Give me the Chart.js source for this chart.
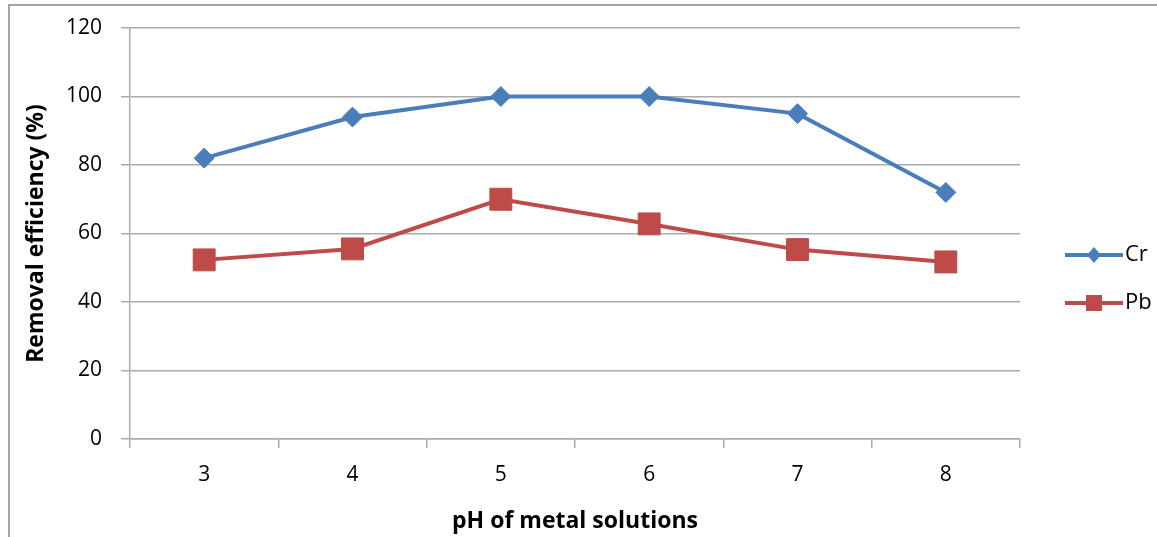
<!DOCTYPE html>
<html>
<head>
<meta charset="utf-8">
<script src="https://cdn.jsdelivr.net/npm/chart.js@4/dist/chart.umd.min.js"></script>
<style>
  html, body { margin: 0; padding: 0; background: #fff; }
  #wrap { width: 1157px; height: 537px; position: relative; }
</style>
</head>
<body>
<div id="wrap"><canvas id="c" width="1157" height="537"></canvas></div>
<script>
const categories = ['3', '4', '5', '6', '7', '8'];
const crValues = [82, 94, 100, 100, 95, 72];
const pbValues = [52.3, 55.5, 70, 62.8, 55.3, 51.7];
const yTicks = [0, 20, 40, 60, 80, 100, 120];
const seriesNames = ['Cr', 'Pb'];

const FONT = '"Open Sans", "Liberation Sans", sans-serif';
const CR = '#4a7ebb';
const PB = '#be4b48';
const GRID = '#ababab';

const framePlugin = {
  id: 'frame',
  beforeDraw(chart) {
    const ctx = chart.ctx;
    ctx.save();
    ctx.fillStyle = '#fff';
    ctx.fillRect(0, 0, chart.width, chart.height);
    ctx.strokeStyle = '#a6a6a6';
    ctx.lineWidth = 2;
    ctx.strokeRect(9, 5, chart.width + 20, chart.height + 20);
    ctx.restore();
  },
  afterDraw(chart) {
    const ctx = chart.ctx;
    ctx.save();
    const rows = [255, 303];
    chart.data.datasets.forEach((ds, i) => {
      const y = rows[i];
      ctx.strokeStyle = ds.borderColor;
      ctx.lineWidth = 4;
      ctx.beginPath();
      ctx.moveTo(1065, y);
      ctx.lineTo(1123, y);
      ctx.stroke();
      ctx.fillStyle = ds.backgroundColor;
      ctx.beginPath();
      if (ds.pointStyle === 'rectRot') {
        ctx.moveTo(1094 - 7, y); ctx.lineTo(1094, y - 8);
        ctx.lineTo(1094 + 7, y); ctx.lineTo(1094, y + 8);
        ctx.closePath();
      } else {
        ctx.rect(1094 - 8, y - 8, 16, 16);
      }
      ctx.fill();
      ctx.fillStyle = '#000';
      ctx.font = '22px ' + FONT;
      ctx.textBaseline = 'middle';
      ctx.textAlign = 'left';
      ctx.fillText(ds.label, 1125, y);
    });
    ctx.restore();
  }
};

new Chart(document.getElementById('c'), {
  type: 'line',
  data: {
    labels: categories,
    datasets: [
      {
        label: seriesNames[0],
        data: crValues,
        borderColor: CR,
        backgroundColor: CR,
        borderWidth: 4,
        pointStyle: 'rectRot',
        pointRadius: 10,
        pointBorderWidth: 1,
        pointBorderColor: CR,
        tension: 0
      },
      {
        label: seriesNames[1],
        data: pbValues,
        borderColor: PB,
        backgroundColor: PB,
        borderWidth: 4,
        pointStyle: 'rect',
        pointRadius: 15.5,
        pointBorderWidth: 1,
        pointBorderColor: PB,
        tension: 0
      }
    ]
  },
  options: {
    responsive: false,
    animation: false,
    devicePixelRatio: 1,
    layout: { padding: { left: 0, top: 28, right: 137, bottom: 0 } },
    plugins: { legend: { display: false }, tooltip: { enabled: false } },
    scales: {
      x: {
        type: 'category',
        offset: true,
        grid: { offset: true, drawOnChartArea: false, drawTicks: true, tickLength: 9, color: GRID, lineWidth: 1.5 },
        border: { color: GRID, width: 1.5 },
        ticks: { color: '#000', font: { family: FONT, size: 21 }, padding: 14, maxRotation: 0 },
        title: { display: true, text: 'pH of metal solutions', color: '#000', font: { family: FONT, size: 23, weight: 'bold' }, padding: { top: 0, bottom: 2 } },
        afterFit(s) { s.height = 98; }
      },
      y: {
        min: 0, max: 120,
        afterBuildTicks(s) { s.ticks = yTicks.map(v => ({ value: v })); },
        grid: { color: GRID, lineWidth: 1.5, tickLength: 9 },
        border: { color: GRID, width: 1.5 },
        ticks: { color: '#000', font: { family: FONT, size: 21, lineHeight: 0.8 }, padding: 19 },
        title: { display: true, text: 'Removal efficiency (%)', color: '#000', font: { family: FONT, size: 23, weight: 'bold' }, padding: { top: 23, bottom: 0 } },
        afterFit(s) { s.width = 130; }
      }
    }
  },
  plugins: [framePlugin]
});
</script>
</body>
</html>
